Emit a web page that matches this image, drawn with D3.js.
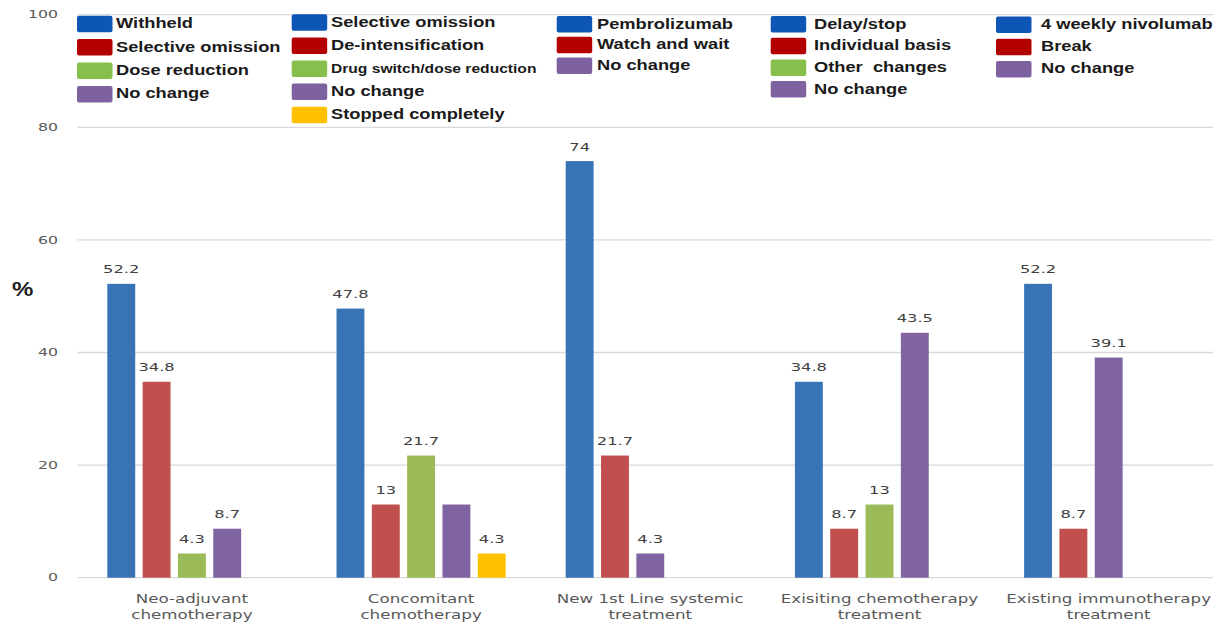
<!DOCTYPE html>
<html>
<head>
<meta charset="utf-8">
<script src="https://cdn.jsdelivr.net/npm/d3@7"></script>
<style>
  html, body { margin: 0; padding: 0; background: #fff; }
  svg { display: block; }
  .leg { white-space: pre; }
</style>
</head>
<body>
<svg id="chart" width="1213" height="626"></svg>
<script>
// ---------------- DATA ----------------
const categories = [
  "Neo-adjuvant\nchemotherapy",
  "Concomitant\nchemotherapy",
  "New 1st Line systemic\ntreatment",
  "Exisiting chemotherapy\ntreatment",
  "Existing immunotherapy\ntreatment"
];
const neoAdjuvant    = [52.2, 34.8, 4.3, 8.7];
const concomitant    = [47.8, 13, 21.7, 13, 4.3];
const newFirstLine   = [74, 21.7, 4.3];
const existingChemo  = [34.8, 8.7, 13, 43.5];
const existingImmuno = [52.2, 8.7, 39.1];

const neoAdjuvantKinds    = ["blue", "red", "green", "purple"];
const concomitantKinds    = ["blue", "red", "green", "purple", "yellow"];
const newFirstLineKinds   = ["blue", "red", "purple"];
const existingChemoKinds  = ["blue", "red", "green", "purple"];
const existingImmunoKinds = ["blue", "red", "purple"];

const neoAdjuvantLegend    = ["Withheld", "Selective omission", "Dose reduction", "No change"];
const concomitantLegend    = ["Selective omission", "De-intensification", "Drug switch/dose reduction", "No change", "Stopped completely"];
const newFirstLineLegend   = ["Pembrolizumab", "Watch and wait", "No change"];
const existingChemoLegend  = ["Delay/stop", "Individual basis", "Other  changes", "No change"];
const existingImmunoLegend = ["4 weekly nivolumab", "Break", "No change"];

// label hidden for concomitant "No change" bar (as in the source)
const hiddenLabels = [{cat: 1, idx: 3}];

const yTicks = [0, 20, 40, 60, 80, 100];

// ---------------- STYLE / LAYOUT ----------------
const barColor = {blue: "#3873b6", red: "#c0504d", green: "#9bbb59", purple: "#8064a2", yellow: "#ffc000"};
const swatchColor = {blue: "#0d56b5", red: "#b30000", green: "#86bf4c", purple: "#7e62a0", yellow: "#ffc000"};

const valuesByCat = [neoAdjuvant, concomitant, newFirstLine, existingChemo, existingImmuno];
const kindsByCat = [neoAdjuvantKinds, concomitantKinds, newFirstLineKinds, existingChemoKinds, existingImmunoKinds];
const legendByCat = [neoAdjuvantLegend, concomitantLegend, newFirstLineLegend, existingChemoLegend, existingImmunoLegend];

const legendLayout = {
  swatchX: [77, 291.7, 556.7, 770.7, 996],
  textX:   [116, 331, 597, 814, 1041],
  top:     [15.7, 14.3, 16, 16, 16.5],
  step:    [23.4, 23.1, 20.8, 21.7, 22.2]
};

const svg = d3.select("#chart");

function stretch(sel, k) {
  sel.each(function () {
    const L = this.getComputedTextLength();
    if (L > 0) {
      this.setAttribute("textLength", (L * k).toFixed(2));
      this.setAttribute("lengthAdjust", "spacingAndGlyphs");
    }
  });
}

const x0 = d3.scaleBand().domain(d3.range(categories.length)).range([77.3, 1223.3]);
const x1 = d3.scaleBand().domain(d3.range(5)).range([0, x0.bandwidth()])
  .paddingInner(0.21).paddingOuter(0.85);
const y = d3.scaleLinear().domain([0, 100]).range([577.7, 14.7]);

// gridlines
svg.append("g").selectAll("line").data(yTicks).join("line")
  .attr("x1", 77.3).attr("x2", 1213)
  .attr("y1", d => y(d)).attr("y2", d => y(d))
  .attr("stroke", "#d9d9d9").attr("stroke-width", 1.3);

// y tick labels
svg.append("g").selectAll("text").data(yTicks).join("text")
  .attr("x", 58).attr("y", d => y(d)).attr("dy", "0.36em")
  .attr("text-anchor", "end")
  .attr("font-family", "DejaVu Sans").attr("font-size", 10.5)
  .attr("fill", "#595959")
  .text(d => d)
  .call(stretch, 1.5);

// % label
svg.append("text").attr("x", 12).attr("y", 296)
  .attr("font-family", "Liberation Sans").attr("font-weight", "bold").attr("font-size", 20)
  .attr("fill", "#222").text("%").call(stretch, 1.2);

// bars
const barData = [];
valuesByCat.forEach((vals, ci) => vals.forEach((v, i) => {
  barData.push({ci, i, v, kind: kindsByCat[ci][i],
    hidden: hiddenLabels.some(h => h.cat === ci && h.idx === i)});
}));

const gBars = svg.append("g");
gBars.selectAll("rect").data(barData).join("rect")
  .attr("x", d => x0(d.ci) + x1(d.i))
  .attr("width", x1.bandwidth())
  .attr("y", d => y(d.v))
  .attr("height", d => y(0) - y(d.v))
  .attr("fill", d => barColor[d.kind]);

// data labels
svg.append("g").selectAll("text").data(barData.filter(d => !d.hidden)).join("text")
  .attr("x", d => x0(d.ci) + x1(d.i) + x1.bandwidth() / 2)
  .attr("y", d => y(d.v) - 10.5)
  .attr("text-anchor", "middle")
  .attr("font-family", "DejaVu Sans").attr("font-size", 10.5)
  .attr("fill", "#404040")
  .text(d => String(d.v))
  .call(stretch, 1.55);

// category labels
const gCat = svg.append("g");
categories.forEach((c, ci) => {
  c.split("\n").forEach((line, li) => {
    gCat.append("text")
      .attr("x", x0(ci) + x0.bandwidth() / 2)
      .attr("y", 603 + li * 16)
      .attr("text-anchor", "middle")
      .attr("font-family", "DejaVu Sans").attr("font-size", 11.5)
      .attr("fill", "#595959")
      .text(line)
      .call(stretch, 1.45);
  });
});

// legend
const gLeg = svg.append("g");
legendByCat.forEach((labels, ci) => {
  labels.forEach((lab, ri) => {
    const top = legendLayout.top[ci] + ri * legendLayout.step[ci];
    gLeg.append("rect")
      .attr("x", legendLayout.swatchX[ci]).attr("y", top)
      .attr("width", 35.5).attr("height", 16.5).attr("rx", 2)
      .attr("fill", swatchColor[kindsByCat[ci][ri]]);
    const small = lab.length > 22;
    gLeg.append("text")
      .attr("class", "leg")
      .attr("x", legendLayout.textX[ci]).attr("y", top + 12.5)
      .attr("font-family", "Liberation Sans").attr("font-weight", "bold")
      .attr("font-size", small ? 12 : 14.5)
      .attr("fill", "#1a1a1a")
      .text(lab)
      .call(stretch, small ? 1.3 : 1.26);
  });
});
</script>
</body>
</html>
